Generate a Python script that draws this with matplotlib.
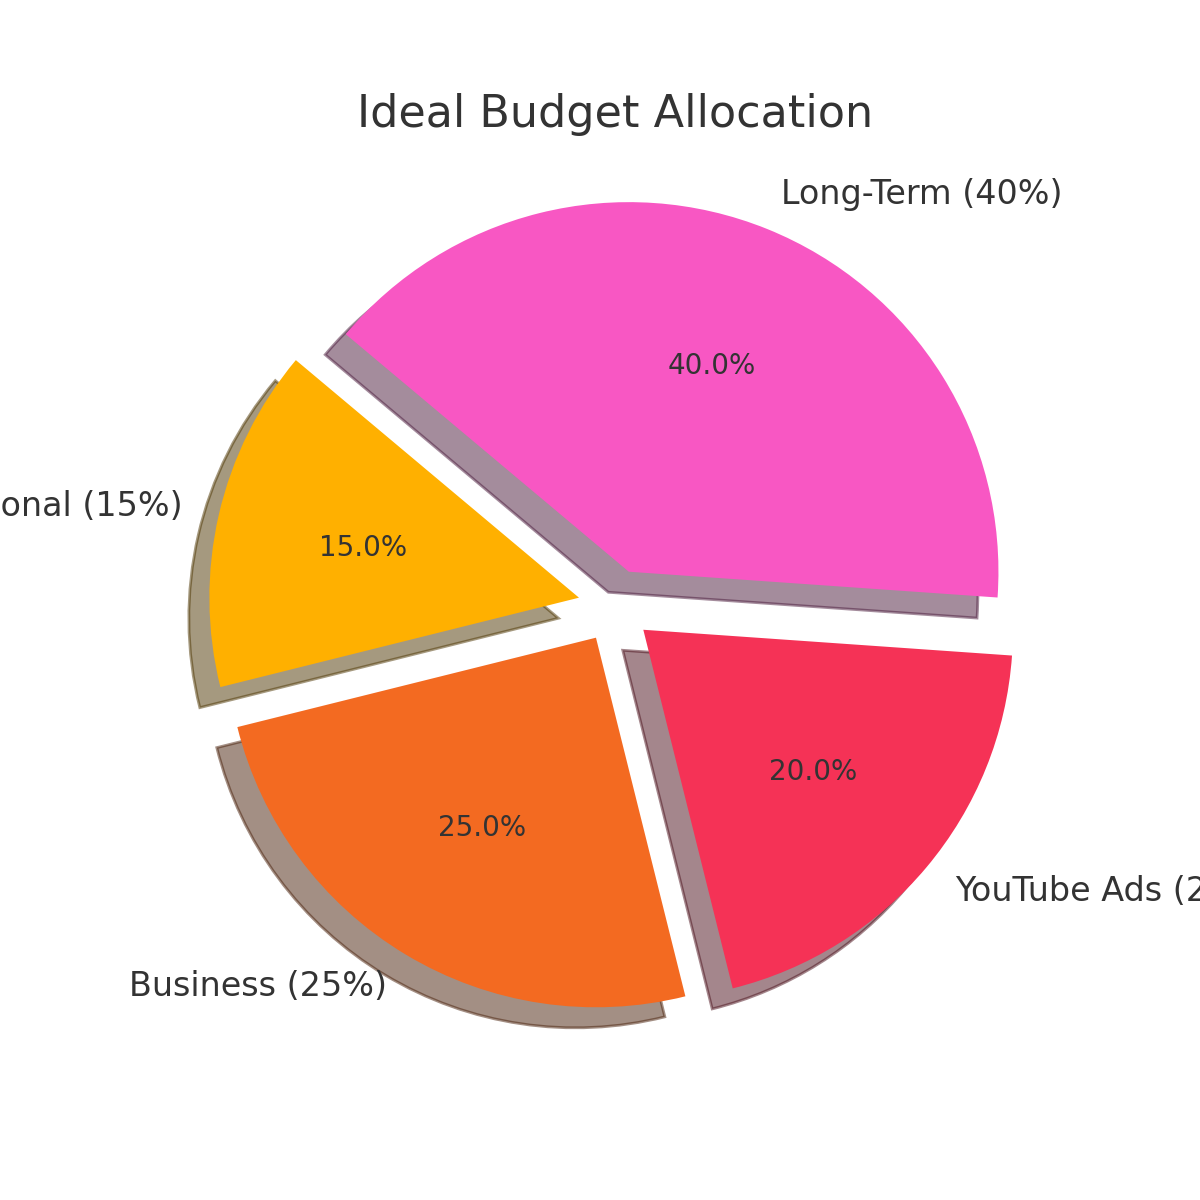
import matplotlib.pyplot as plt

# budget split (percent)
categories = ['Personal', 'Business', 'YouTube Ads', 'Long-Term']
shares = [15, 25, 20, 40]
colors = ['#FFB000', '#F36A21', '#F53256', '#F857C3']
explode = [0.1, 0.1, 0.1, 0.1]

labels = [f'{c} ({s}%)' for c, s in zip(categories, shares)]

text_color = '#333333'

fig, ax = plt.subplots(figsize=(6, 6), dpi=200)

wedges, texts, autotexts = ax.pie(
    shares, labels=labels, colors=colors, explode=explode,
    autopct='%1.1f%%', shadow=True, startangle=140,
    textprops={'color': text_color, 'fontsize': 12})

for t in autotexts:
    t.set_fontsize(10)

ax.set_title('Ideal Budget Allocation', fontsize=16, color=text_color)

fig.savefig('out.png', dpi=200)
